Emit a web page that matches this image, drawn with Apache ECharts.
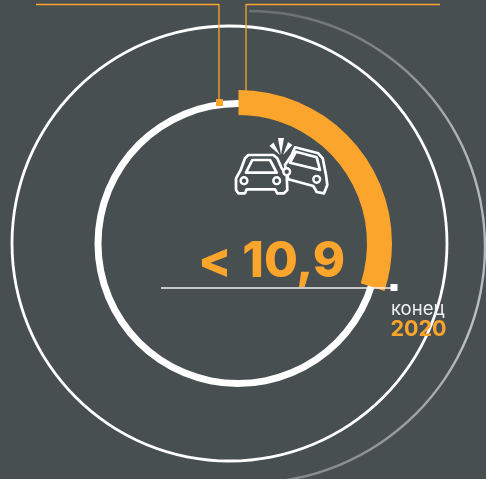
<!DOCTYPE html>
<html><head><meta charset="utf-8">
<style>html,body{margin:0;padding:0;background:#484f51}#c{width:486px;height:479px}</style>
<script src="https://cdn.jsdelivr.net/npm/echarts@6/dist/echarts.min.js"></script>
</head><body><div id="c"></div>
<script>
// Data
const valueLabel = '< 10,9';
const endLabel = 'конец';
const yearLabel = '2020';
const progressShare = [30, 70];     // orange arc / remainder, % of the ring
const innerRingShare = [100];
const outerRingShare = [100];
const sweepShare = [50, 50];        // grey outer arc / remainder

const ORANGE = '#fba52d', BG = '#484f51', WHITE = '#ffffff';
const chart = echarts.init(document.getElementById('c'), null, {renderer: 'canvas'});

function ring(center, radius, shares, color, z) {
  return {
    type: 'pie', center, radius, startAngle: 90, clockwise: true, silent: true, z,
    animation: false, label: {show: false}, labelLine: {show: false},
    data: shares.map((v, i) => ({
      value: v,
      itemStyle: {color: i === 0 ? color : 'transparent', borderWidth: 0}
    }))
  };
}
const greyGrad = new echarts.graphic.LinearGradient(0, 0, 0, 479, [
  {offset: 0, color: '#656c6e'}, {offset: 0.28, color: '#b0b4b5'},
  {offset: 0.7, color: '#bcc0c0'}, {offset: 1, color: '#858b8c'}
], true);

const line = (points, color, width, z) => ({
  type: 'polyline', silent: true, z: z || 10, shape: {points},
  style: {stroke: color, lineWidth: width, fill: null, lineJoin: 'round'}
});
const shapeLine = (points, fill) => ({
  type: 'polygon', silent: true, z: 12, shape: {points},
  style: {stroke: WHITE, lineWidth: 2.7, fill: fill || 'transparent', lineJoin: 'round'}
});
const dot = (x, y, s, color) => ({
  type: 'rect', silent: true, z: 11, shape: {x: x - s / 2, y: y - s / 2, width: s, height: s},
  style: {fill: color}
});
const wheel = (cx, cy) => ({
  type: 'circle', silent: true, z: 13, shape: {cx, cy, r: 3.4},
  style: {stroke: WHITE, lineWidth: 2.4, fill: BG}
});
const spark = pts => ({type: 'polygon', silent: true, z: 14, shape: {points: pts}, style: {fill: WHITE}});
const txt = (x, y, text, size, weight, color) => ({
  type: 'text', silent: true, z: 20, x, y,
  style: {text, fill: color, font: weight + ' ' + size + 'px Inter, sans-serif', textVerticalAlign: 'middle'}
});

chart.setOption({
  backgroundColor: BG,
  animation: false,
  series: [
    ring([229.5, 243.5], [216.1, 218.9], outerRingShare, WHITE, 1),
    ring([249, 247], [234.8, 237.2], sweepShare, greyGrad, 1),
    ring([238, 243.5], [136.5, 143.5], innerRingShare, WHITE, 2),
    ring([238.5, 243.5], [128.5, 153.5], progressShare, ORANGE, 3)
  ],
  graphic: {elements: [
    line([[36, 4.5], [219, 4.5], [219, 100]], ORANGE, 1.3),
    line([[246, 91], [246, 4.5], [440, 4.5]], ORANGE, 1.3),
    dot(219.5, 102.5, 7, ORANGE),
    line([[161, 288], [394, 288]], '#f2f3f3', 1.4),
    dot(394, 287.5, 7, WHITE),
    // left car
    shapeLine([[248.3,155],[273.3,155],[277.3,158.3],[281.7,168.3],[286.7,175],[287.3,190],[284,193.3],[277.3,193.3],[275,189.3],[246.7,189.3],[245,193.3],[238.3,193.3],[236,190],[236,178.3],[240.7,170],[245,158.3]]),
    shapeLine([[252.3,160],[270,160],[276.7,172.7],[246,172.7]]),
    wheel(244, 180.7), wheel(276.7, 180.7),
    // right car
    shapeLine([[295,147.3],[318.3,153.3],[322.7,158.3],[326,175],[327.3,185],[324,193.3],[316.7,192],[313.3,186],[288.3,179.3],[285,165],[291.7,155]], BG),
    shapeLine([[296,151.7],[316.7,157.3],[320,170],[290,162.7]], BG),
    wheel(316.7, 179.3), wheel(286.7, 171.7),
    // impact sparks
    spark([[278,138],[284,138],[281,155]]),
    spark([[269.5,146],[273.5,142.5],[280,155]]),
    spark([[292.5,145],[288,142],[283,155]]),
    // texts
    txt(198, 262.5, valueLabel, 49, 800, ORANGE),
    txt(391, 309, endLabel, 18.5, 400, '#eef0f0'),
    txt(390.5, 330, yearLabel, 21.5, 700, ORANGE)
  ]}
});
</script></body></html>
